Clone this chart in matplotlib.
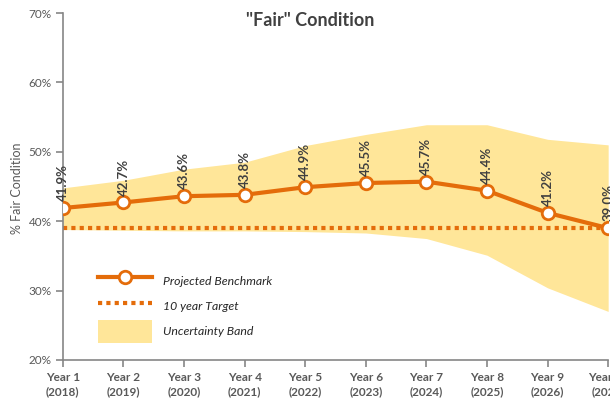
import matplotlib.pyplot as plt
from matplotlib.patches import Patch
from matplotlib.lines import Line2D

years = ['Year 1\n(2018)', 'Year 2\n(2019)', 'Year 3\n(2020)', 'Year 4\n(2021)', 'Year 5\n(2022)',
         'Year 6\n(2023)', 'Year 7\n(2024)', 'Year 8\n(2025)', 'Year 9\n(2026)', 'Year 10\n(2027)']
benchmark = [41.9, 42.7, 43.6, 43.8, 44.9, 45.5, 45.7, 44.4, 41.2, 39.0]
band_upper = [44.8, 45.9, 47.5, 48.5, 50.9, 52.5, 53.9, 53.9, 51.8, 51.0]
band_lower = [38.8, 38.7, 38.6, 38.6, 38.5, 38.3, 37.5, 35.1, 30.4, 27.0]
target = 39.0

orange = '#E46C0A'
band_col = '#FFE699'
gray = '#595959'

plt.rcParams['font.family'] = ['Lato', 'DejaVu Sans']


def create_figure():
    fig = plt.figure(figsize=(6.1, 4.0), dpi=100)
    ax = fig.add_axes([0.103, 0.1, 0.894, 0.8675])
    x = list(range(len(years)))

    ax.fill_between(x, band_lower, band_upper, color=band_col, linewidth=0, zorder=1)
    ax.plot(x, [target] * len(x), linestyle=(0, (1, 1)), color=orange, linewidth=3, zorder=2)
    ax.plot(x, benchmark, '-o', color=orange, linewidth=3, markersize=9,
            markerfacecolor='white', markeredgecolor=orange, markeredgewidth=2, zorder=3)

    # rotated value labels above each point
    for xi, v in zip(x, benchmark):
        ax.annotate(f'{v:.1f}%', (xi, v), xytext=(0, 5), textcoords='offset points',
                    rotation=90, ha='center', va='bottom', fontsize=9.5, fontweight='bold',
                    color='#404040', zorder=4)

    ax.set_xlim(0, 9)
    ax.set_ylim(20, 70)
    ax.set_yticks([20, 30, 40, 50, 60, 70])
    ax.set_yticklabels([f'{t}%' for t in [20, 30, 40, 50, 60, 70]], fontsize=8.5, color=gray)
    ax.set_xticks(x)
    ax.set_xticklabels(years, fontsize=8.5, fontweight='bold', color=gray, linespacing=1.4)

    for side in ['top', 'right']:
        ax.spines[side].set_visible(False)
    for side in ['left', 'bottom']:
        ax.spines[side].set_color('#868686')
        ax.spines[side].set_linewidth(1.2)
    ax.tick_params(axis='both', colors='#868686', length=5, width=1.2, labelcolor=gray)
    ax.tick_params(axis='y', pad=3)

    fig.text(17 / 610, 1 - 188 / 400, '% Fair Condition', rotation=90, ha='center', va='center',
             fontsize=9, color=gray)
    fig.text(310 / 610, 1 - 21 / 400, '"Fair" Condition', ha='center', va='center',
             fontsize=13, fontweight='bold', color='#404040')

    handles = [
        Line2D([], [], color=orange, linewidth=3, marker='o', markersize=9,
               markerfacecolor='white', markeredgecolor=orange, markeredgewidth=2),
        Line2D([], [], color=orange, linewidth=3, linestyle=(0, (1, 1))),
        Patch(facecolor=band_col, edgecolor='none'),
    ]
    labels = ['Projected Benchmark', '10 year Target', 'Uncertainty Band']
    leg = ax.legend(handles, labels, loc='upper left', bbox_to_anchor=(0.053, 0.278), frameon=False,
                    prop={'style': 'italic', 'size': 8.8}, handlelength=4.4, handleheight=2.5,
                    labelspacing=0.2, handletextpad=0.9, borderpad=0)
    for t in leg.get_texts():
        t.set_color('#262626')

    fig.savefig('out.png', dpi=100)


def main():
    create_figure()


if __name__ == '__main__':
    main()
